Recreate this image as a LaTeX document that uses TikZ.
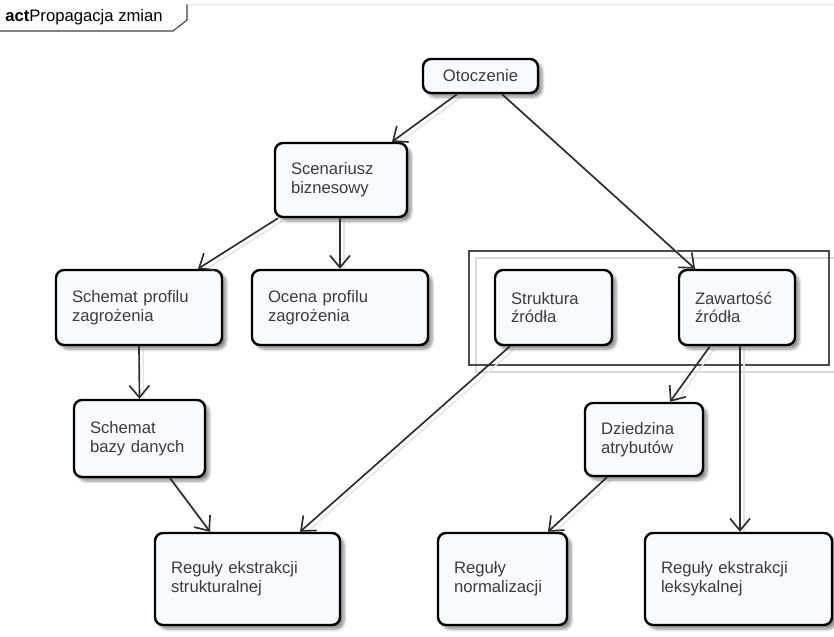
\documentclass[tikz,border=0pt]{standalone}
\usepackage{fontspec}
\setmainfont{Liberation Sans}
\usetikzlibrary{arrows.meta,calc,shadows.blur,backgrounds}
\definecolor{boxfill}{RGB}{248,251,254}
\definecolor{txtgray}{RGB}{60,60,60}
\definecolor{edgegray}{RGB}{45,45,45}

\begin{document}
\begin{tikzpicture}[
    x=0.75pt, y=-0.75pt,
    font=\fontsize{12.5pt}{14pt}\selectfont,
    act/.style={draw=black, line width=1.8pt, rounded corners=6pt, fill=boxfill,
      text=txtgray, align=left, inner xsep=12pt, inner ysep=0pt,
      blur shadow={shadow xshift=3pt, shadow yshift=-3pt, shadow blur steps=6, shadow opacity=45}},
    ed/.style={draw=edgegray, line width=1.25pt, -{Straight Barb[length=9pt,width=15pt]}},
    edsh/.style={draw=black!10, line width=1.1pt}
  ]
    \useasboundingbox (0,0) rectangle (834,636);
    % frame tab
    \node[anchor=base west, inner sep=0pt] (title) at (5,21) {\textbf{act}Propagacja zmian};
    \draw[black!75, line width=0.8pt] (0,31) -- (173,31) -- (187,20) -- (187,4);
    \draw[black!10, line width=0.6pt] (187,4) -- (834,4);

    \node[act, align=center, text width=62.25pt, minimum height=25.5pt] (oto) at (480.5,76) {Otoczenie};
    \node[act, text width=75pt, minimum height=55.5pt] (scen) at (341,180) {Scenariusz\\biznesowy};
    \node[act, text width=100.5pt, minimum height=56.25pt] (sprof) at (139,307.5) {Schemat profilu\\zagrożenia};
    \node[act, text width=108pt, minimum height=56.25pt] (ocena) at (340,307.5) {Ocena profilu\\zagrożenia};
    \node[act, text width=63.75pt, minimum height=56.25pt] (strukt) at (553.5,307.5) {Struktura\\źródła};
    \node[act, text width=63pt, minimum height=56.25pt] (zaw) at (737,307.5) {Zawartość\\źródła};
    \node[act, text width=74.25pt, minimum height=57.75pt] (sbazy) at (139.5,438.5) {Schemat\\bazy danych};
    \node[act, text width=64.5pt, minimum height=54.75pt] (dziedz) at (644,439.5) {Dziedzina\\atrybutów};
    \node[act, text width=114.75pt, minimum height=69pt] (rstr) at (247.5,579) {Reguły ekstrakcji\\strukturalnej};
    \node[act, text width=72.75pt, minimum height=69pt] (rnorm) at (502.5,579) {Reguły\\normalizacji};
    \node[act, text width=116.25pt, minimum height=69pt] (rleks) at (738.5,579) {Reguły ekstrakcji\\leksykalnej};

    \begin{scope}[on background layer]
      % partition around the source nodes
      \draw[black!15, line width=0.8pt] (476,258) rectangle (835,372);
      \draw[black!70, line width=0.8pt] (469,251) rectangle (829,365);
      \foreach \a/\ax/\b/\bx in {oto/-23.5/scen/51, oto/21.5/zaw/-42, scen/-63/sprof/59,
          scen/-1/ocena/0, sprof/0/sbazy/0, sbazy/30.5/rstr/-37.5, strukt/-43.5/rstr/52.5,
          zaw/-27/dziedz/26, zaw/3/rleks/1.5, dziedz/-37/rnorm/45.5}
        \draw[edsh] ($(\a.south)+(\ax,0)+(4,3)$) -- ($(\b.north)+(\bx,0)+(4,3)$);
    \end{scope}

    \foreach \a/\ax/\b/\bx in {oto/-23.5/scen/51, oto/21.5/zaw/-42, scen/-63/sprof/59,
        scen/-1/ocena/0, sprof/0/sbazy/0, sbazy/30.5/rstr/-37.5, strukt/-43.5/rstr/52.5,
        zaw/-27/dziedz/26, zaw/3/rleks/1.5, dziedz/-37/rnorm/45.5}
      \draw[ed] ($(\a.south)+(\ax,0)$) -- ($(\b.north)+(\bx,0)$);
\end{tikzpicture}
\end{document}
